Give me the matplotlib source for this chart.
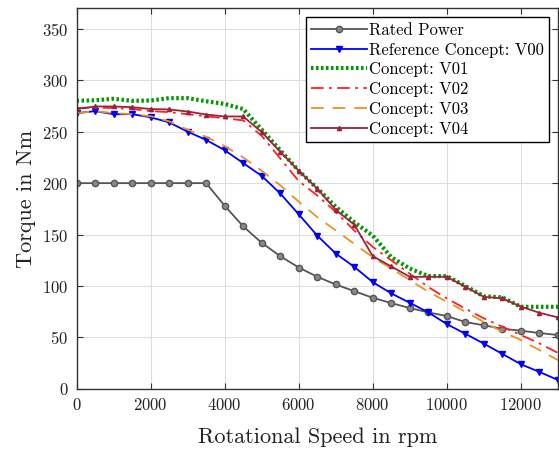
import matplotlib
matplotlib.use("Agg")
import matplotlib.pyplot as plt
import numpy as np

plt.rcParams['font.family'] = 'serif'
plt.rcParams['font.serif'] = ['cmr10', 'DejaVu Serif']
plt.rcParams['mathtext.fontset'] = 'cm'
plt.rcParams['axes.formatter.use_mathtext'] = True

speed = list(range(0, 13001, 500))

rated = [200, 200, 200, 200, 200, 200, 200, 200, 178, 158, 142, 129, 118, 109,
         101.5, 95, 88.6, 83.4, 78.6, 74.4, 70.8, 65, 61.8, 58.5, 56.6, 54.3, 52.4]
v00 = [268, 270, 267, 267, 264, 259, 250, 242, 232, 219.5, 207, 190, 169.7, 149,
       131.6, 118.6, 103.8, 92.8, 83.7, 74.4, 63, 53.6, 44, 34, 24, 16.5, 8.7]
v01 = [280, 280.5, 282, 280, 280.3, 282.6, 282.6, 279.6, 277, 272, 252, 232, 212, 195,
       177, 162, 149, 128, 117, 109.6, 109.6, 100, 90, 89, 79.8, 79.8, 79.8]
v02 = [273, 273.5, 273, 272, 270, 269, 267, 265, 263, 261, 246, 224, 202, 188,
       172, 154, 138, 125, 112, 99, 88, 78, 68.6, 60.4, 52.4, 44.3, 35]
v03 = [268, 270, 268, 267, 265, 260, 252, 245, 236, 225, 212, 198, 182, 167,
       154, 141, 128, 117, 105.7, 94.4, 84.7, 75, 65, 55.6, 47.5, 37.8, 28]
v04 = [272, 274.5, 274.5, 273.8, 272, 271.6, 269.6, 266.7, 264.8, 264.8, 249.6, 230.6, 212, 194.7,
       174, 159.7, 129, 119, 108.9, 109, 109, 99.3, 89.5, 88, 80, 74, 69.5]

labels = ['Rated Power', 'Reference Concept: V00', 'Concept: V01',
          'Concept: V02', 'Concept: V03', 'Concept: V04']

fig = plt.figure(figsize=(5.59, 4.57), dpi=100)
ax = fig.add_axes([0.137, 0.149, 0.861, 0.833])

ax.plot(speed, rated, color='#555555', lw=1.3, marker='o', ms=4.5,
        mfc='#888888', mec='#555555', mew=1.0, label=labels[0])
ax.plot(speed, v00, color='#0000ff', lw=1.3, marker='v', ms=4.5,
        mfc='#0000ff', label=labels[1])
ax.plot(speed, v01, color='#009900', lw=3, ls=(0, (0.6, 0.6)), label=labels[2])
ax.plot(speed, v02, color='#ff2020', lw=1.3, ls=(0, (7, 3, 1.5, 3)), label=labels[3])
ax.plot(speed, v03, color='#ee9020', lw=1.3, ls=(0, (7, 5)), label=labels[4])
ax.plot(speed, v04, color='#a0203a', lw=1.3, marker='^', ms=3,
        mfc='#a0203a', label=labels[5])

ax.set_xlim(0, 13000)
ax.set_ylim(0, 370)
ax.set_xticks(range(0, 12001, 2000))
ax.set_yticks(range(0, 351, 50))
ax.grid(True, color='#dddddd', lw=0.8)
ax.set_axisbelow(True)
ax.tick_params(direction='in', top=True, right=True, labelsize=12, length=4,
               color='#333333', labelcolor='#222222', pad=6)
for s in ax.spines.values():
    s.set_color('#333333')
    s.set_linewidth(1.0)

ax.set_xlabel('Rotational Speed in rpm', fontsize=16, labelpad=10, color='#222222')
ax.set_ylabel('Torque in Nm', fontsize=16, labelpad=4, color='#222222')

leg = ax.legend(loc='upper right', fontsize=12, frameon=True, fancybox=False,
                edgecolor='black', framealpha=1, borderpad=0.3, labelspacing=0.27,
                handlelength=3.4, handletextpad=0.1, borderaxespad=0.55)
leg.get_frame().set_linewidth(1.0)

fig.savefig('out.png', dpi=100)
